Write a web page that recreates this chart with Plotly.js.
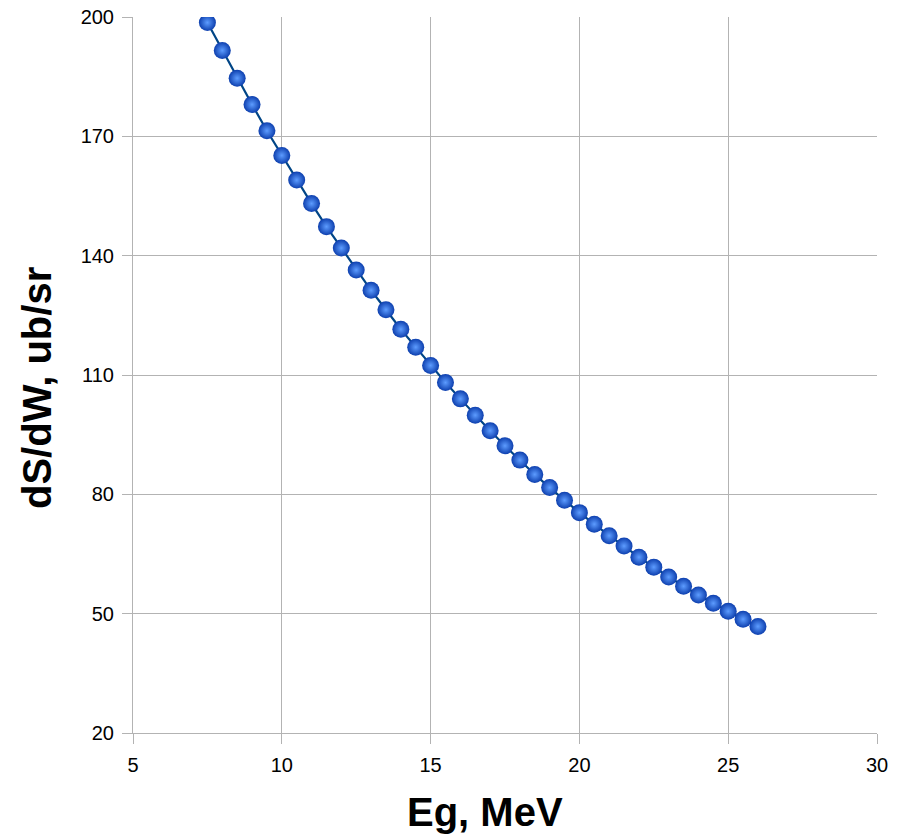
<!DOCTYPE html>
<html>
<head>
<meta charset="utf-8">
<script src="https://cdn.plot.ly/plotly-3.0.1.min.js"></script>
<style>html,body{margin:0;padding:0;background:#fff;}#chart{width:905px;height:837px;}</style>
</head>
<body>
<div id="chart"></div>
<script>
const energyMeV = [7.5, 8, 8.5, 9, 9.5, 10, 10.5, 11, 11.5, 12, 12.5, 13, 13.5, 14, 14.5, 15, 15.5, 16, 16.5, 17, 17.5, 18, 18.5, 19, 19.5, 20, 20.5, 21, 21.5, 22, 22.5, 23, 23.5, 24, 24.5, 25, 25.5, 26];
const crossSection = [198.6, 191.6, 184.6, 178.0, 171.4, 165.2, 159.0, 153.1, 147.3, 141.9, 136.4, 131.3, 126.4, 121.5, 117.0, 112.4, 108.1, 104.0, 99.9, 96.0, 92.2, 88.6, 85.0, 81.7, 78.5, 75.4, 72.5, 69.6, 67.0, 64.2, 61.7, 59.2, 56.9, 54.7, 52.6, 50.6, 48.6, 46.8];
const xTicks = [5, 10, 15, 20, 25, 30];
const yTicks = [20, 50, 80, 110, 140, 170, 200];
const xTitle = "Eg, MeV";
const yTitle = "dS/dW, ub/sr";

const grid = "#b3b3b3";
const trace = {
  x: energyMeV, y: crossSection, type: "scatter", mode: "lines+markers",
  line: {color: "#004586", width: 2.2},
  marker: {size: 17, color: "#0d3fae", gradient: {type: "radial", color: "#5d9cff"}, line: {width: 0}},
  hoverinfo: "x+y"
};
const axisCommon = {
  showgrid: true, gridcolor: grid, gridwidth: 1,
  showline: true, linecolor: grid, linewidth: 1,
  ticks: "outside", ticklen: 10, tickcolor: grid, tickwidth: 1,
  tickfont: {family: "Liberation Sans, Arial, sans-serif", size: 20, color: "#000"},
  zeroline: false, tickmode: "array"
};
const layout = {
  width: 905, height: 837,
  margin: {l: 133, r: 28, t: 17, b: 104},
  paper_bgcolor: "#fff", plot_bgcolor: "#fff",
  showlegend: false,
  xaxis: Object.assign({}, axisCommon, {range: [5, 30], tickvals: xTicks, ticktext: xTicks.map(String), ticklabelstandoff: 4}),
  yaxis: Object.assign({}, axisCommon, {range: [20, 200], tickvals: yTicks, ticktext: yTicks.map(String), ticklabelstandoff: 4}),
  annotations: [
    {text: "<b>" + xTitle + "</b>", xref: "paper", yref: "paper", x: (485 - 133) / 744, y: -(812 - 733) / 716,
     xanchor: "center", yanchor: "middle", showarrow: false,
     font: {family: "Liberation Sans, Arial, sans-serif", size: 40, color: "#000"}},
    {text: "<b>" + yTitle + "</b>", xref: "paper", yref: "paper", x: -(133 - 37) / 744, y: (733 - 388) / 716,
     xanchor: "center", yanchor: "middle", textangle: -90, showarrow: false,
     font: {family: "Liberation Sans, Arial, sans-serif", size: 40, color: "#000"}}
  ]
};
Plotly.newPlot("chart", [trace], layout, {displayModeBar: false, staticPlot: true});
</script>
</body>
</html>
